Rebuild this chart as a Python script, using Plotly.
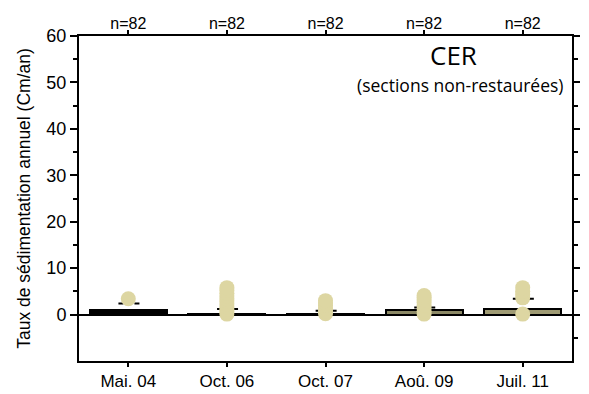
import plotly.graph_objects as go

categories = ["Mai. 04", "Oct. 06", "Oct. 07", "Aoû. 09", "Juil. 11"]
n_labels = ["n=82", "n=82", "n=82", "n=82", "n=82"]
bar_means = [0.9, 0.1, 0.05, 0.9, 1.3]
bar_fills = ["#000000", "#8c8966", "#8c8966", "#8c8966", "#9f9b74"]
dash_vals = [2.4, 1.2, 0.8, 1.5, 3.4]
points = [
    [3.4],
    [0.1, 0.6, 1.1, 1.7, 2.3, 2.9, 3.4, 4.0, 4.6, 5.2, 5.8],
    [0.2, 0.8, 1.4, 2.0, 2.5, 3.0],
    [0.1, 0.7, 1.3, 2.0, 2.6, 3.2, 3.7, 4.1],
    [0.1, 3.6, 4.3, 5.0, 5.8],
]
y_ticks = [0, 10, 20, 30, 40, 50, 60]
site_title = "CER"
site_subtitle = "(sections non-restaurées)"

idx = list(range(len(categories)))
pt_color = "#ddd6a2"
sans = "Liberation Sans, Arial, sans-serif"

fig = go.Figure()

fig.add_trace(go.Bar(
    x=idx, y=bar_means, width=0.78,
    marker=dict(color=bar_fills, line=dict(color="black", width=2)),
    showlegend=False, hoverinfo="skip",
))

dx, dy = [], []
for i, v in zip(idx, dash_vals):
    dx += [i - 0.1, i + 0.12, None]
    dy += [v, v, None]
fig.add_trace(go.Scatter(
    x=dx, y=dy, mode="lines",
    line=dict(color="black", width=2, dash="5px,3px"),
    showlegend=False, hoverinfo="skip",
))

px, py = [], []
for i, vals in zip(idx, points):
    px += [i] * len(vals)
    py += vals
fig.add_trace(go.Scatter(
    x=px, y=py, mode="markers",
    marker=dict(color=pt_color, size=15, line=dict(width=0)),
    showlegend=False, hoverinfo="skip",
))

# invisible trace to anchor top and right axes
fig.add_trace(go.Scatter(x=[0], y=[0], xaxis="x2", yaxis="y2", mode="markers",
                         marker=dict(opacity=0), showlegend=False, hoverinfo="skip"))

fig.update_layout(
    width=581, height=386,
    margin=dict(l=71, r=17, t=28, b=33),
    paper_bgcolor="white", plot_bgcolor="white",
    bargap=0,
    xaxis=dict(
        range=[-0.5, 4.5], tickvals=idx, ticktext=categories,
        ticks="outside", ticklen=4, tickwidth=1.5, tickcolor="black",
        showline=True, linecolor="black", linewidth=2,
        showgrid=False, zeroline=False, automargin=False,
        tickfont=dict(family=sans, size=17, color="black"),
    ),
    xaxis2=dict(
        overlaying="x", side="top", anchor="y",
        range=[-0.5, 4.5], tickvals=idx, ticktext=n_labels,
        ticks="outside", ticklen=4, tickwidth=1.5, tickcolor="black",
        showline=True, linecolor="black", linewidth=2,
        showgrid=False, zeroline=False, automargin=False,
        ticklabelstandoff=-5,
        tickfont=dict(family=sans, size=16, color="black"),
    ),
    yaxis=dict(
        range=[-10, 60], tickvals=y_ticks,
        ticks="outside", ticklen=7, tickwidth=1.5, tickcolor="black",
        minor=dict(tickvals=[5, 15, 25, 35, 45, 55], ticks="outside", ticklen=4,
                   tickwidth=1.5, tickcolor="black"),
        showline=True, linecolor="black", linewidth=2,
        showgrid=False, zeroline=True, zerolinecolor="black", zerolinewidth=2,
        automargin=False,
        tickfont=dict(family=sans, size=18, color="black"),
        title=dict(text="Taux de sédimentation annuel (Cm/an)", standoff=11,
                   font=dict(family=sans, size=17.5, color="black")),
    ),
    yaxis2=dict(
        overlaying="y", side="right", anchor="x",
        range=[-10, 60], tickvals=y_ticks, showticklabels=False,
        ticks="outside", ticklen=6, tickwidth=1.5, tickcolor="black",
        minor=dict(tickvals=[-5, 5, 15, 25, 35, 45, 55], ticks="outside", ticklen=4,
                   tickwidth=1.5, tickcolor="black"),
        showline=True, linecolor="black", linewidth=2,
        showgrid=False, zeroline=False, automargin=False,
    ),
    annotations=[
        dict(text=site_title, xref="paper", yref="paper", x=0.760, y=0.883,
             xanchor="center", yanchor="bottom", showarrow=False, borderpad=0,
             font=dict(family="Open Sans, sans-serif", size=26, color="black")),
        dict(text=site_subtitle, xref="paper", yref="paper", x=0.772, y=0.889,
             xanchor="center", yanchor="top", showarrow=False, borderpad=0,
             font=dict(family="Open Sans, sans-serif", size=17.5, color="black")),
    ],
)

fig.write_html("out.html")
